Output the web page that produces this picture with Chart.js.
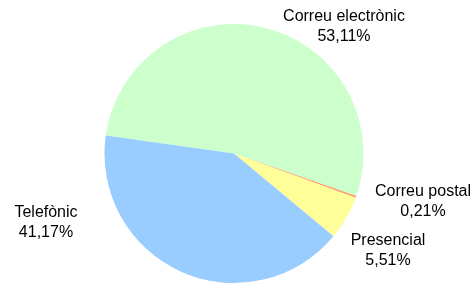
<!DOCTYPE html>
<html lang="ca">
<head>
    <meta charset="UTF-8">
    <title>Canals d'atenció</title>
    <script src="https://cdn.jsdelivr.net/npm/chart.js@4/dist/chart.umd.min.js"></script>
    <style>
        body { margin: 0; padding: 0; background: #fff; }
        .chart-container { width: 476px; height: 284px; position: relative; }
    </style>
</head>
<body>
    <div class="chart-container">
        <canvas id="pieChart"></canvas>
    </div>

    <script>
        const labels = ['Correu electrònic', 'Correu postal', 'Presencial', 'Telefònic'];
        const values = [53.11, 0.21, 5.51, 41.17];
        const colors = ['#ccffcc', '#ff9966', '#ffff99', '#99ccff'];

        // where each label's text block is centred (pixels)
        const labelSpots = [[344, 27], [423, 202], [388, 251], [46, 223]];

        const fmt = v => v.toFixed(2).replace('.', ',') + '%';

        const outsideLabels = {
            id: 'outsideLabels',
            afterDatasetsDraw(chart) {
                const ctx = chart.ctx;
                ctx.save();
                ctx.font = '16px "Liberation Sans", Arial, sans-serif';
                ctx.fillStyle = '#000';
                ctx.textAlign = 'center';
                ctx.textBaseline = 'middle';
                chart.data.labels.forEach((name, i) => {
                    const [x, y] = labelSpots[i];
                    ctx.fillText(name, x, y - 10);
                    ctx.fillText(fmt(chart.data.datasets[0].data[i]), x, y + 10);
                });
                ctx.restore();
            }
        };

        new Chart(document.getElementById('pieChart'), {
            type: 'pie',
            data: {
                labels: labels,
                datasets: [{
                    data: values,
                    backgroundColor: colors,
                    borderWidth: 0
                }]
            },
            options: {
                responsive: true,
                maintainAspectRatio: false,
                animation: false,
                rotation: 278,
                layout: { padding: { top: 24, bottom: 1, left: 104, right: 112 } },
                plugins: {
                    legend: { display: false },
                    tooltip: { enabled: false }
                }
            },
            plugins: [outsideLabels]
        });
    </script>
</body>
</html>
